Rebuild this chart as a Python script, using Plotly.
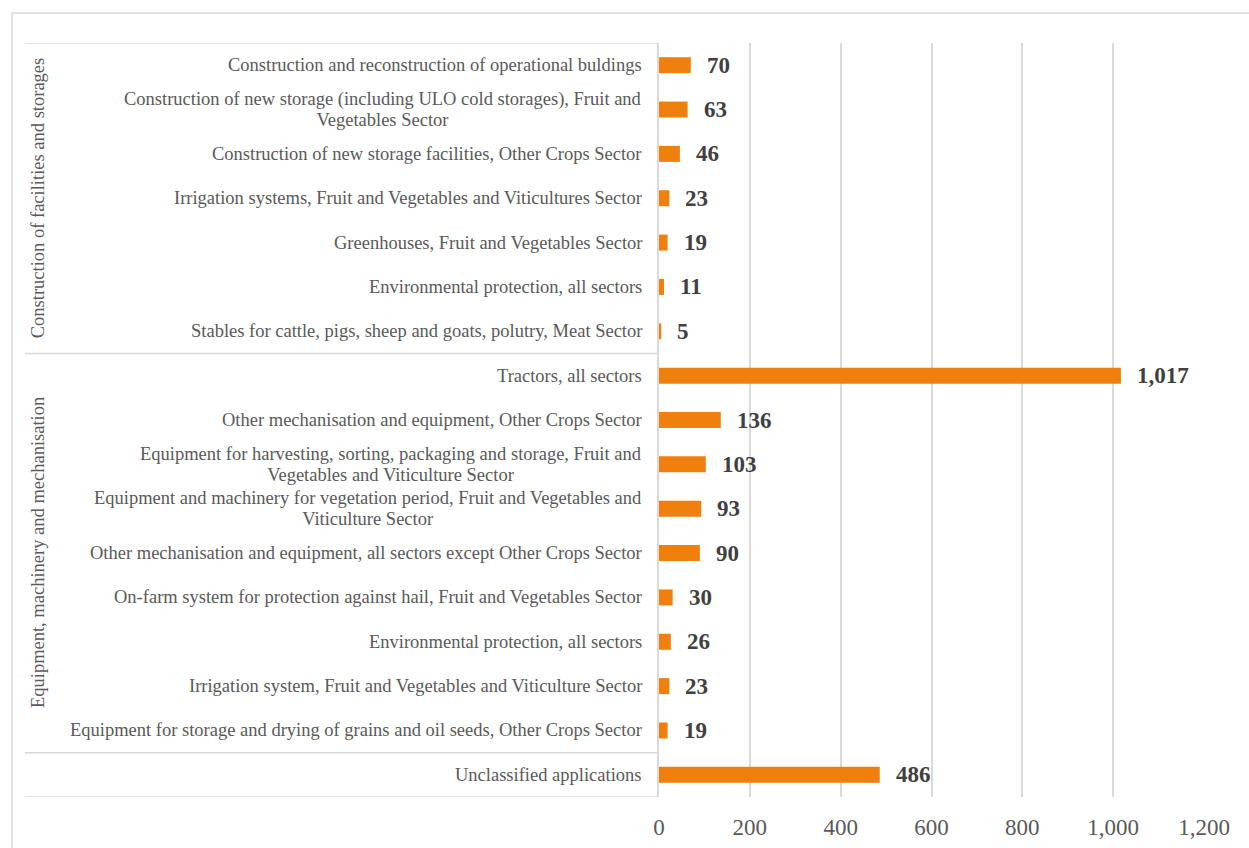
import plotly.graph_objects as go

# ---- data ----
groups = ["Construction of facilities and storages"] * 7 + \
         ["Equipment, machinery and mechanisation"] * 9 + [""]
items = [
    "Construction and reconstruction of operational buldings",
    "Construction of new storage (including ULO cold storages), Fruit and<br>Vegetables Sector",
    "Construction of new storage facilities, Other Crops Sector",
    "Irrigation systems, Fruit and Vegetables and Viticultures Sector",
    "Greenhouses, Fruit and Vegetables Sector",
    "Environmental protection, all sectors",
    "Stables for cattle, pigs, sheep and goats, polutry, Meat Sector",
    "Tractors, all sectors",
    "Other mechanisation and equipment, Other Crops Sector",
    "Equipment for harvesting, sorting, packaging and storage, Fruit and<br>Vegetables and Viticulture Sector",
    "Equipment and machinery for vegetation period, Fruit and Vegetables and<br>Viticulture Sector",
    "Other mechanisation and equipment, all sectors except Other Crops Sector",
    "On-farm system for protection against hail, Fruit and Vegetables Sector",
    "Environmental protection, all sectors",
    "Irrigation system, Fruit and Vegetables and Viticulture Sector",
    "Equipment for storage and drying of grains and oil seeds, Other Crops Sector",
    "Unclassified applications",
]
values = [70, 63, 46, 23, 19, 11, 5, 1017, 136, 103, 93, 90, 30, 26, 23, 19, 486]
x_ticks = [0, 200, 400, 600, 800, 1000, 1200]
x_tick_labels = ["0", "200", "400", "600", "800", "1,000", "1,200"]

# unique category keys
keys = [f"{g}|{i}" for g, i in zip(groups, items)]

FONT = "Times New Roman, Liberation Serif, serif"
GRAY = "#595959"
LINE = "#D9D9D9"
LABEL_SIZE = 18.5

W, H = 1249, 848
L, R, T, B = 659, 1204, 43, 797

def px2x(px):
    return (px - L) / (R - L)

def py2y(py):
    return (B - py) / (B - T)

fig = go.Figure(go.Bar(
    y=keys, x=values, orientation="h",
    marker=dict(color="#EF800E", line=dict(width=0)),
    width=0.36, hoverinfo="x",
))

annotations = []
# item labels
for k, it in zip(keys, items):
    if "<br>" in it:
        # tighter line spacing: outer font sets line height, span sets glyph size
        lines = it.split("<br>")
        txt = "<br>".join(f'<span style="font-size:{LABEL_SIZE}px">{ln}</span>' for ln in lines)
        fsize = 16.2
    else:
        txt = it
        fsize = LABEL_SIZE
    annotations.append(dict(
        x=0, xref="paper", xshift=-15, xanchor="right",
        y=k, yref="y", yanchor="middle",
        text=txt, showarrow=False, align="center",
        font=dict(family=FONT, size=fsize, color=GRAY),
    ))
# value labels
for k, v in zip(keys, values):
    annotations.append(dict(
        x=v, xref="x", xshift=14, xanchor="left",
        y=k, yref="y", yanchor="middle",
        text=f"<b>{v:,}</b>", showarrow=False,
        font=dict(family=FONT, size=23, color="#404040"),
    ))
# group labels (rotated)
group_names = ["Construction of facilities and storages",
               "Equipment, machinery and mechanisation"]
for g in group_names:
    idx = [i for i, gg in enumerate(groups) if gg == g]
    mid = keys[idx[len(idx) // 2]]
    annotations.append(dict(
        x=px2x(38), xref="paper", xanchor="center",
        y=mid, yref="y", yanchor="middle",
        text=g, textangle=-90, showarrow=False,
        font=dict(family=FONT, size=LABEL_SIZE, color=GRAY),
    ))

shapes = []
# outer chart border
shapes.append(dict(type="rect", xref="paper", yref="paper",
                   x0=px2x(12), x1=px2x(1300), y0=py2y(13), y1=py2y(900),
                   line=dict(color=LINE, width=1.5), fillcolor="rgba(0,0,0,0)"))
# category separators
sep_rows = [-0.5]
for i in range(1, len(groups)):
    if groups[i] != groups[i - 1]:
        sep_rows.append(i - 0.5)
sep_rows.append(len(groups) - 0.5)
for r in sep_rows:
    shapes.append(dict(type="line", xref="paper", yref="y",
                       x0=px2x(25), x1=0, y0=r, y1=r,
                       line=dict(color=LINE, width=1.5)))

fig.update_layout(
    width=W, height=H,
    margin=dict(l=L, r=W - R, t=T, b=H - B),
    paper_bgcolor="white", plot_bgcolor="white",
    showlegend=False,
    bargap=0.64,
    annotations=annotations,
    shapes=shapes,
    xaxis=dict(range=[0, 1200], tickvals=x_ticks, ticktext=x_tick_labels,
               showgrid=True, gridcolor=LINE, gridwidth=1.5,
               zeroline=False, showline=False, ticks="",
               tickfont=dict(family=FONT, size=23, color=GRAY),
               ticklabelstandoff=14, automargin=False, fixedrange=True),
    yaxis=dict(categoryorder="array", categoryarray=keys,
               range=[len(keys) - 0.5, -0.5],
               showticklabels=False, showgrid=False, zeroline=False,
               showline=True, linecolor=LINE, linewidth=1.5, ticks="",
               automargin=False, fixedrange=True),
)

fig.write_html("out.html")
